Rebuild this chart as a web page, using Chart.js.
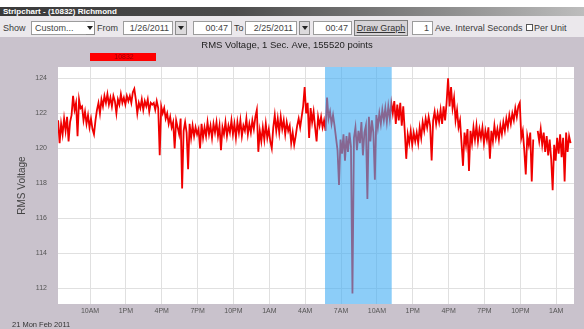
<!DOCTYPE html>
<html>
<head>
<meta charset="utf-8">
<title>Stripchart - (10832) Richmond</title>
<script src="https://cdn.jsdelivr.net/npm/chart.js@4/dist/chart.umd.min.js"></script>
<style>
  html, body { margin: 0; padding: 0; background: #fff; }
  #app { position: relative; width: 584px; height: 329px; overflow: hidden;
         font-family: "Liberation Sans", Arial, sans-serif; }
  #titlebar { position: absolute; left: 0; top: 7px; width: 584px; height: 9px;
              background: linear-gradient(to right, #3a3a3a, #4c4c4c 40%, #8a8a8a 75%, #bdbdbd);
              color: #fff; font-size: 8px; font-weight: bold; line-height: 9px;
              padding-left: 3px; box-sizing: border-box; white-space: nowrap; }
  #toolbar { position: absolute; left: 0; top: 16px; width: 584px; height: 21px;
             background: #ebe8ec; font-size: 9px; color: #3a3a3a; }
  .lbl { position: absolute; top: 5px; line-height: 14px; white-space: nowrap; }
  .box { position: absolute; top: 5px; height: 14px; background: #fff;
         border: 1px solid #9c9c9c; box-sizing: border-box; line-height: 12px;
         text-align: right; padding-right: 3px; white-space: nowrap; color: #444; }
  .btn { position: absolute; top: 5px; height: 14px; background: #dcdadc;
         border: 1px solid #8c8c8c; box-sizing: border-box; }
  .btn::after { content: ""; position: absolute; left: 50%; top: 4px; margin-left: -3px;
                border-left: 3px solid transparent; border-right: 3px solid transparent;
                border-top: 4px solid #222; }
  .gbtn { position: absolute; top: 4px; height: 16px; background: #d6d3d6;
          border: 1px solid #7c7c7c; box-sizing: border-box; line-height: 14px;
          text-align: center; text-decoration: underline; color: #333; white-space: nowrap; }
  .chk { position: absolute; top: 8px; width: 7px; height: 7px; background: #fff;
         border: 1px solid #555; box-sizing: border-box; }
  #c { position: absolute; left: 0; top: 37px; background: #c9c2cc; }
</style>
</head>
<body>
<div id="app">
  <div id="titlebar">Stripchart - (10832) Richmond</div>
  <div id="toolbar">
    <span class="lbl" style="left:3px">Show</span>
    <div class="box" style="left:31px;width:56px;text-align:left;padding-left:3px">Custom...</div>
    <div class="btn" style="left:86px;width:9px;background:#fff;border-left:none"></div>
    <span class="lbl" style="left:97px">From</span>
    <div class="box" style="left:123px;width:50px">1/26/2011</div>
    <div class="btn" style="left:175px;width:12px"></div>
    <div class="box" style="left:193px;width:39px">00:47</div>
    <span class="lbl" style="left:234px">To</span>
    <div class="box" style="left:245px;width:52px">2/25/2011</div>
    <div class="btn" style="left:299px;width:11px"></div>
    <div class="box" style="left:313px;width:39px">00:47</div>
    <div class="gbtn" style="left:354px;width:54px">Draw Graph</div>
    <div class="box" style="left:412px;width:21px">1</div>
    <span class="lbl" style="left:435px">Ave. Interval Seconds</span>
    <div class="chk" style="left:526px"></div>
    <span class="lbl" style="left:534px">Per Unit</span>
  </div>
  <canvas id="c" width="584" height="292"></canvas>
</div>
<script>
// Hours after midnight, Mon 21 Feb 2011, of the first averaged sample
const startHour = 7.33;
// Spacing between plotted samples, in hours
const stepHours = 0.125;

// RMS voltage readings (V); null marks a gap in the record
const volts = [
  121.6,120.3,121.4,120.8,121.7,121.0,121.8,120.4,121.5,121.9,123.0,122.2,122.6,120.7,122.8,122.3,
  122.4,121.6,122.1,121.4,121.9,121.2,121.7,121.1,120.8,121.6,122.2,122.6,122.0,122.8,122.4,123.0,
  122.6,123.1,122.5,122.9,122.4,123.0,122.7,122.0,122.8,122.5,123.1,122.6,122.9,122.5,123.0,122.7,
  123.0,122.6,123.2,123.4,122.8,122.0,122.6,122.3,122.8,122.2,122.7,122.4,122.8,122.1,122.6,122.5,
  122.6,122.2,122.7,122.3,119.6,122.4,122.0,122.3,121.7,122.0,121.4,121.8,121.2,121.5,120.0,121.6,
  121.2,120.8,121.7,117.7,121.0,121.5,120.9,118.8,121.4,120.6,121.3,120.7,121.2,120.8,121.1,120.0,
  121.4,120.6,121.2,120.7,121.5,120.8,121.3,120.6,121.4,120.9,121.5,120.7,121.3,119.9,121.2,120.8,
  121.5,120.7,121.3,120.9,121.6,120.8,121.4,120.6,121.5,120.9,121.6,120.7,121.3,121.0,121.7,120.8,
  121.4,120.9,121.6,121.1,121.8,122.2,119.8,121.0,120.4,121.2,120.5,121.4,120.6,121.1,120.4,120.0,
  121.2,121.9,121.0,121.7,120.9,121.8,121.1,121.6,120.8,121.5,121.0,121.3,120.3,120.9,120.2,120.7,
  121.3,121.7,121.2,121.8,122.4,123.5,122.0,122.6,120.6,122.3,121.5,122.1,121.2,120.4,121.8,121.3,
  121.8,121.2,121.6,121.0,122.9,121.7,122.1,121.4,121.9,121.3,120.6,119.9,117.9,120.5,119.7,120.8,
  119.3,120.7,119.8,120.9,120.1,111.7,120.6,121.2,119.9,121.0,120.3,121.5,119.6,120.9,121.3,117.1,
  121.8,120.4,121.6,120.9,118.2,121.9,121.2,122.0,121.4,122.2,121.6,122.3,121.5,122.4,121.7,122.6,
  122.0,122.7,121.4,122.5,121.6,122.6,121.3,122.4,121.0,119.4,120.8,120.3,121.0,120.2,120.9,120.4,
  120.9,120.3,121.2,120.6,121.5,121.0,121.7,121.2,121.8,121.3,119.3,121.6,122.1,121.4,122.0,121.5,
  122.2,121.4,122.4,121.6,122.6,124.0,122.4,123.5,122.3,122.9,121.6,122.2,121.2,121.6,120.3,119.0,
  120.9,120.2,121.1,118.7,121.0,120.3,121.2,120.5,121.3,120.4,121.1,120.6,121.2,120.3,121.0,120.5,
  121.2,119.4,121.0,120.4,121.3,120.6,121.1,120.5,121.3,120.8,121.5,121.0,121.7,121.2,121.9,121.4,
  122.0,121.6,122.3,121.8,122.4,122.6,120.6,121.0,119.9,118.5,120.7,120.2,120.9,118.1,120.5,null,
  null,121.0,120.4,121.1,120.2,120.9,119.8,120.7,119.6,120.5,119.4,117.6,120.2,119.3,120.6,119.7,
  120.8,119.5,120.6,118.1,120.9,119.8,120.7,120.3
];

// Time axis ticks (hours after midnight Monday) and their clock labels
const tickHours = [10, 13, 16, 19, 22, 25, 28, 31, 34, 37, 40, 43, 46, 49];
const tickLabels = ['10AM','1PM','4PM','7PM','10PM','1AM','4AM','7AM','10AM','1PM','4PM','7PM','10PM','1AM'];
const voltTicks = [112, 114, 116, 118, 120, 122, 124];

// Selected time span (hours) shown as a highlight band
const selection = [29.66, 35.24];

const seriesName = '10832';
const chartTitle = 'RMS Voltage, 1 Sec. Ave, 155520 points';
const dateCaption = '21 Mon Feb 2011';

const points = volts.map((v, i) => ({ x: startHour + i * stepHours, y: v }));

Chart.defaults.font.family = '"Liberation Sans", Arial, sans-serif';

// White plotting field behind grid and trace
const plotField = {
  id: 'plotField',
  beforeDraw(chart) {
    const { ctx, chartArea: a } = chart;
    ctx.save();
    ctx.fillStyle = '#ffffff';
    ctx.fillRect(a.left, a.top, a.right - a.left, a.bottom - a.top);
    ctx.restore();
  }
};

// Translucent band over the selected span
const selectionBand = {
  id: 'selectionBand',
  afterDatasetsDraw(chart) {
    const { ctx, chartArea: a, scales: { x } } = chart;
    const x0 = x.getPixelForValue(selection[0]);
    const x1 = x.getPixelForValue(selection[1]);
    ctx.save();
    ctx.fillStyle = 'rgba(63,172,243,0.6)';
    ctx.fillRect(x0, a.top, x1 - x0, a.bottom - a.top);
    ctx.restore();
  }
};

// Series swatch and date caption
const extras = {
  id: 'extras',
  afterDraw(chart) {
    const { ctx } = chart;
    ctx.save();
    ctx.fillStyle = '#ff0000';
    ctx.fillRect(90, 16, 66, 8);
    ctx.fillStyle = '#9a0000';
    ctx.font = '7px "Liberation Sans", Arial, sans-serif';
    ctx.textAlign = 'center';
    ctx.textBaseline = 'middle';
    ctx.fillText(seriesName, 124, 20.5);
    ctx.fillStyle = '#333';
    ctx.font = '7.5px "Liberation Sans", Arial, sans-serif';
    ctx.textAlign = 'left';
    ctx.fillText(dateCaption, 12, 288);
    ctx.restore();
  }
};

new Chart(document.getElementById('c'), {
  type: 'line',
  data: {
    datasets: [{
      label: seriesName,
      data: points,
      borderColor: '#f00000',
      borderWidth: 1.8,
      pointRadius: 0,
      tension: 0,
      fill: false,
      spanGaps: false
    }]
  },
  options: {
    responsive: false,
    animation: false,
    devicePixelRatio: 1,
    layout: { padding: { left: 0, right: 10, top: 0, bottom: 0 } },
    plugins: {
      legend: { display: false },
      tooltip: { enabled: false },
      title: {
        display: true,
        text: chartTitle,
        color: '#222',
        font: { size: 9.5, weight: 'normal' },
        padding: { top: 2.3, bottom: 16.3 }
      }
    },
    scales: {
      x: {
        type: 'linear',
        min: 7.32,
        max: 50.49,
        afterBuildTicks: s => { s.ticks = tickHours.map(v => ({ value: v })); },
        afterFit: s => { s.height = 25; },
        grid: { color: '#e0e0e0', drawTicks: false },
        border: { display: false },
        ticks: {
          autoSkip: false, maxRotation: 0, padding: 3,
          color: '#555', font: { size: 7 },
          callback: (v, i) => tickLabels[i]
        }
      },
      y: {
        min: 111.1,
        max: 124.65,
        afterBuildTicks: s => { s.ticks = voltTicks.map(v => ({ value: v })); },
        afterFit: s => { s.width = 58; },
        grid: { color: '#e0e0e0', drawTicks: false },
        border: { display: false },
        ticks: { padding: 11, color: '#555', font: { size: 7 } },
        title: {
          display: true, text: 'RMS Voltage', color: '#444',
          font: { size: 10 }, padding: { top: 16, bottom: 0 }
        }
      }
    }
  },
  plugins: [plotField, selectionBand, extras]
});
</script>
</body>
</html>
